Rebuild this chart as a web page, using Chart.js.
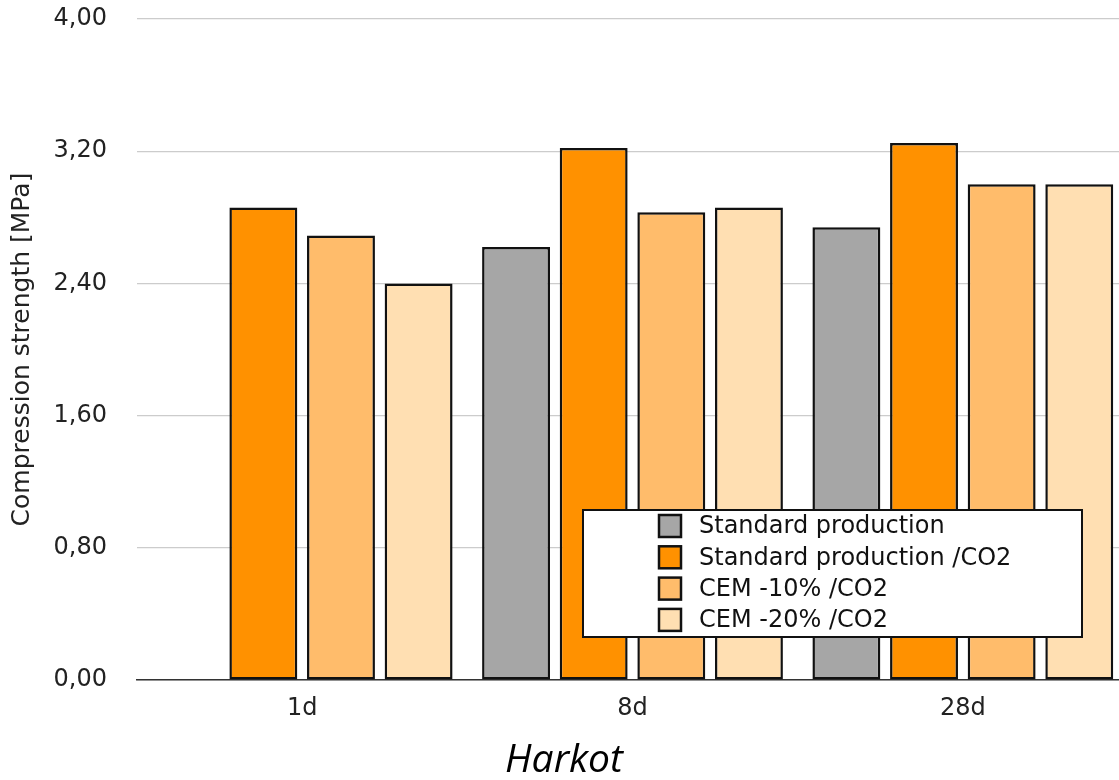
<!DOCTYPE html>
<html>
<head>
<meta charset="utf-8">
<script src="https://cdn.jsdelivr.net/npm/chart.js@4.4.1/dist/chart.umd.min.js"></script>
<style>
  html, body { margin: 0; padding: 0; background: #fff; overflow: hidden; }
  #wrap { position: relative; width: 1130px; height: 780px; }
</style>
</head>
<body>
<div id="wrap"><canvas id="chart"></canvas></div>
<script>
// data
var categories = ["1d", "8d", "28d"];
var seriesNames = ["Standard production", "Standard production /CO2", "CEM -10% /CO2", "CEM -20% /CO2"];
var standardProd = [null, 2.62, 2.74];
var standardProdCO2 = [2.86, 3.22, 3.25];
var cem10CO2 = [2.69, 2.83, 3.00];
var cem20CO2 = [2.40, 2.86, 3.00];
var yTicks = [0, 0.8, 1.6, 2.4, 3.2, 4.0];

var colors = ["#a6a6a6", "#ff9100", "#ffbc6b", "#ffdfb2"];
var allValues = [standardProd, standardProdCO2, cem10CO2, cem20CO2];

var datasets = allValues.map(function(vals, i) {
    return {
        label: seriesNames[i],
        data: vals,
        backgroundColor: colors[i],
        borderColor: "#111",
        borderWidth: 2.5,
        borderSkipped: false,
        barPercentage: 0.875,
        categoryPercentage: 0.94
    };
});

// legend box drawn inside the plot, like the original
var boxLegend = {
    id: "boxLegend",
    afterDraw: function(chart) {
        var ctx = chart.ctx;
        var bx = 583, by = 510, bw = 499, bh = 127;
        ctx.save();
        ctx.fillStyle = "#fff";
        ctx.fillRect(bx, by, bw, bh);
        ctx.strokeStyle = "#111";
        ctx.lineWidth = 2;
        ctx.strokeRect(bx, by, bw, bh);
        ctx.font = "24px 'DejaVu Sans'";
        ctx.textBaseline = "middle";
        chart.data.datasets.forEach(function(ds, i) {
            var cy = 526 + i * 31.3;
            ctx.fillStyle = ds.backgroundColor;
            ctx.fillRect(659, cy - 11, 22, 22);
            ctx.strokeStyle = "#111";
            ctx.lineWidth = 2.5;
            ctx.strokeRect(659, cy - 11, 22, 22);
            ctx.fillStyle = "#111";
            ctx.fillText(ds.label, 699, cy + 1);
        });
        ctx.restore();
    }
};

var ctx = document.getElementById("chart").getContext("2d");
new Chart(ctx, {
    type: "bar",
    data: { labels: categories, datasets: datasets },
    options: {
        responsive: true,
        maintainAspectRatio: false,
        animation: false,
        layout: { padding: { top: 19, right: 2, left: 0, bottom: 0 } },
        plugins: {
            legend: { display: false },
            tooltip: { enabled: false },
            title: {
                display: true,
                text: "Harkot",
                position: "bottom",
                color: "#000",
                font: { family: "'Open Sans'", size: 39, style: "italic", weight: "normal", lineHeight: 1.0 },
                padding: { top: 0, bottom: 0 }
            }
        },
        scales: {
            x: {
                grid: { display: false, drawTicks: false },
                border: { display: true, color: "#333", width: 1.5 },
                ticks: { color: "#222", font: { family: "'DejaVu Sans'", size: 24 }, padding: 14 },
                afterFit: function(scale) { scale.height = 61; }
            },
            y: {
                min: 0,
                max: 4,
                afterBuildTicks: function(scale) {
                    scale.ticks = yTicks.map(function(v) { return { value: v }; });
                },
                grid: { color: "#cccccc", lineWidth: 1.2, drawTicks: true, tickLength: 30, tickColor: "rgba(0,0,0,0)" },
                border: { display: false },
                ticks: {
                    color: "#222",
                    padding: 0,
                    font: { family: "'DejaVu Sans'", size: 24 },
                    callback: function(v) { return v.toFixed(2).replace(".", ","); }
                },
                title: {
                    display: true,
                    text: "Compression strength [MPa]",
                    color: "#222",
                    font: { family: "'DejaVu Sans'", size: 25 },
                    padding: { top: 7, bottom: 0 }
                },
                afterFit: function(scale) { scale.width = 137; }
            }
        }
    },
    plugins: [boxLegend]
});
</script>
</body>
</html>
